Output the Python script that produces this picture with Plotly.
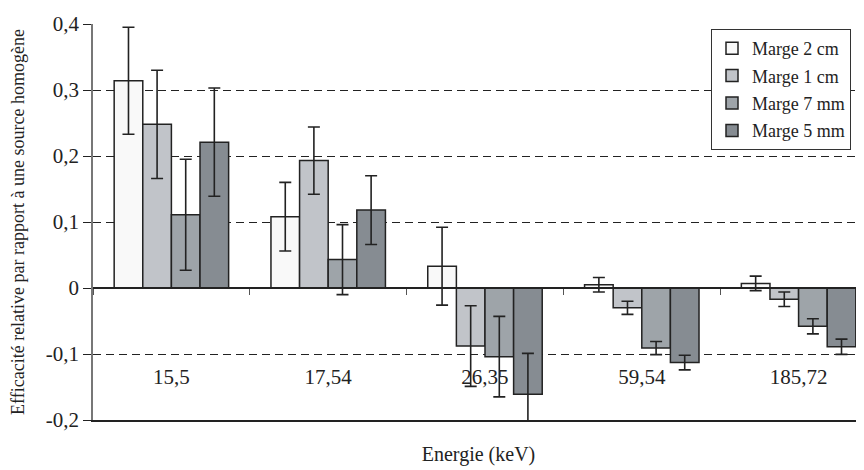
import plotly.graph_objects as go

categories = ["15,5", "17,54", "26,35", "59,54", "185,72"]
series_names = ["Marge 2 cm", "Marge 1 cm", "Marge 7 mm", "Marge 5 mm"]

marge_2cm = [0.314, 0.108, 0.033, 0.005, 0.007]
marge_1cm = [0.248, 0.193, -0.088, -0.030, -0.017]
marge_7mm = [0.111, 0.043, -0.104, -0.091, -0.058]
marge_5mm = [0.221, 0.118, -0.161, -0.113, -0.089]

err_2cm = [0.081, 0.052, 0.059, 0.011, 0.011]
err_1cm = [0.082, 0.051, 0.061, 0.010, 0.011]
err_7mm = [0.084, 0.053, 0.061, 0.010, 0.0115]
err_5mm = [0.082, 0.052, 0.062, 0.011, 0.0115]

y_tickvals = [-0.2, -0.1, 0, 0.1, 0.2, 0.3, 0.4]
y_ticktext = ["-0,2", "-0,1", "0", "0,1", "0,2", "0,3", "0,4"]

colors = ["#f9f9f9", "#c1c4c9", "#9ea4a9", "#868c92"]
values = [marge_2cm, marge_1cm, marge_7mm, marge_5mm]
errors = [err_2cm, err_1cm, err_7mm, err_5mm]

FONT = "Liberation Serif, Times New Roman, Times, serif"

fig = go.Figure()
for name, vals, errs, col in zip(series_names, values, errors, colors):
    fig.add_trace(go.Bar(
        name=name, x=categories, y=vals, legendgroup=name,
        marker=dict(color=col, line=dict(color="#222222", width=1.5)),
        error_y=dict(type="data", array=errs, symmetric=True,
                     color="#222222", thickness=1.6, width=6),
    ))

# invisible helper trace for the bottom frame axis
fig.add_trace(go.Scatter(x=[None], y=[None], xaxis="x2", yaxis="y",
                         showlegend=False, hoverinfo="skip"))

ncat = len(categories)
xr = [-0.5, ncat - 0.5 - 13 / 157]

fig.update_layout(
    width=856, height=462,
    margin=dict(l=85, r=0, t=16, b=50),
    paper_bgcolor="white", plot_bgcolor="white",
    font=dict(family=FONT, color="#222222", size=20),
    barmode="group", bargap=0.27, bargroupgap=0,
    showlegend=True,
    legend=dict(x=(851 - 93) / 771, y=(420 - 29) / 396, xanchor="right", yanchor="top",
                bgcolor="white", bordercolor="#333333", borderwidth=1,
                font=dict(family=FONT, size=18, color="#222222"),
                tracegroupgap=1, itemwidth=30),
    xaxis=dict(type="category", range=xr, anchor="free", position=1 / 3,
               showline=True, linecolor="#222222", linewidth=1.5,
               ticks="outside", tickson="boundaries", ticklen=6,
               tickcolor="#555555", tickwidth=1,
               showgrid=False, zeroline=False,
               tickfont=dict(family=FONT, size=21, color="#222222"),
               ticklabelstandoff=70),
    xaxis2=dict(overlaying="x", anchor="y", side="bottom", range=xr,
                showline=True, linecolor="#222222", linewidth=1.5,
                showticklabels=False, ticks="", showgrid=False, zeroline=False,
                title=dict(text="Energie (keV)", standoff=26,
                           font=dict(family=FONT, size=20, color="#222222"))),
    yaxis=dict(range=[-0.2, 0.4], tickvals=y_tickvals, ticktext=y_ticktext,
               showline=True, linecolor="#777777", linewidth=1.5,
               ticks="outside", ticklen=8, tickcolor="#222222", tickwidth=1,
               showgrid=True, gridcolor="#222222", gridwidth=1, griddash="8px,5px",
               zeroline=False,
               tickfont=dict(family=FONT, size=21, color="#222222"),
               title=dict(text="Efficacité relative par rapport à une source homogène",
                          standoff=16,
                          font=dict(family=FONT, size=18, color="#222222"))),
)

fig.write_html("out.html")
